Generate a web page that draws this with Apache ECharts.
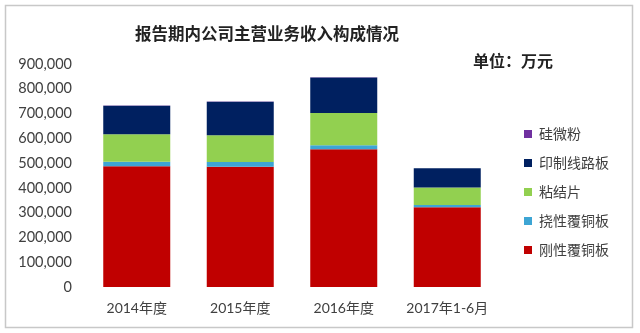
<!DOCTYPE html>
<html>
<head>
<meta charset="utf-8">
<script src="https://cdn.jsdelivr.net/npm/echarts@6/dist/echarts.min.js"></script>
<style>
  html, body { margin: 0; padding: 0; background: #fff; }
  #chart { width: 640px; height: 333px; }
</style>
</head>
<body>
<div id="chart"></div>
<script>
// Revenue breakdown by product line, unit: 10k CNY
const categories = ['2014年度', '2015年度', '2016年度', '2017年1-6月'];
const rigidCCL = [487000, 485500, 555600, 321600];   // 刚性覆铜板
const flexCCL = [18600, 18500, 16400, 9400];         // 挠性覆铜板
const prepreg = [110400, 108000, 130000, 71000];     // 粘结片
const pcb = [115600, 135800, 144000, 77000];         // 印制线路板
const silicaPowder = [1000, 1000, 1000, 500];        // 硅微粉
const yTicks = [0, 100000, 200000, 300000, 400000, 500000, 600000, 700000, 800000, 900000];

const labelFont = 'Lato, "Noto Sans CJK SC", sans-serif';
const chart = echarts.init(document.getElementById('chart'));

const seriesDefs = [
  { name: '刚性覆铜板', data: rigidCCL, color: '#C00000' },
  { name: '挠性覆铜板', data: flexCCL, color: '#3DA5D4' },
  { name: '粘结片', data: prepreg, color: '#92D050' },
  { name: '印制线路板', data: pcb, color: '#002060' },
  { name: '硅微粉', data: silicaPowder, color: '#7030A0' }
];

chart.setOption({
  animation: false,
  title: {
    text: '报告期内公司主营业务收入构成情况',
    left: 262, top: 20, textAlign: 'center',
    textStyle: { fontFamily: '"Noto Sans CJK SC", sans-serif', fontSize: 16.5, fontWeight: 'bold', color: '#222' }
  },
  graphic: [
    { type: 'rect', shape: { x: 5.5, y: 5.5, width: 627, height: 322 },
      style: { fill: 'none', stroke: '#c8c8c8', lineWidth: 1.5 } },
    { type: 'text', left: 473, top: 53,
      style: { text: '单位：万元', font: 'bold 16px "Noto Sans CJK SC", sans-serif', fill: '#222' } }
  ],
  legend: {
    orient: 'vertical', left: 519, top: 122, itemGap: 15,
    itemWidth: 8, itemHeight: 8, icon: 'rect',
    data: ['硅微粉', '印制线路板', '粘结片', '挠性覆铜板', '刚性覆铜板'],
    textStyle: { fontFamily: '"Noto Sans CJK SC", sans-serif', fontSize: 14, color: '#404040', padding: [0, 0, 0, 2] }
  },
  grid: { left: 85, right: 141, top: 64, bottom: 46 },
  xAxis: {
    type: 'category', data: categories,
    axisLine: { show: false }, axisTick: { show: false },
    axisLabel: { interval: 0, fontFamily: labelFont, fontSize: 14, color: '#404040', margin: 14 }
  },
  yAxis: {
    type: 'value', min: yTicks[0], max: yTicks[yTicks.length - 1], interval: 100000,
    splitLine: { show: false }, axisLine: { show: false }, axisTick: { show: false },
    axisLabel: {
      fontFamily: labelFont, fontSize: 14.5, color: '#404040', margin: 13,
      formatter: v => v.toLocaleString('en-US')
    }
  },
  series: seriesDefs.map(s => ({
    name: s.name, type: 'bar', stack: 'total', data: s.data,
    barWidth: 67, itemStyle: { color: s.color }
  }))
});
</script>
</body>
</html>
